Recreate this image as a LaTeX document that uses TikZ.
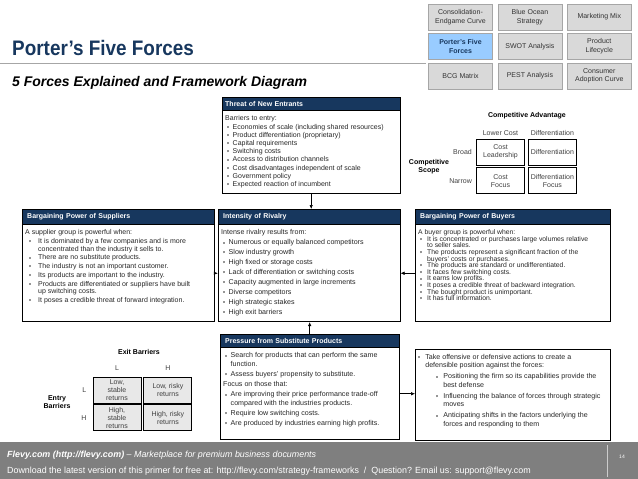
\documentclass[tikz,border=0pt]{standalone}
\usepackage{fontspec}
\usepackage{graphicx}
\setmainfont{Liberation Sans}
\usetikzlibrary{positioning,arrows.meta}

\definecolor{navy}{RGB}{23,55,94}
\definecolor{navgray}{RGB}{217,217,217}
\definecolor{navline}{RGB}{166,166,166}
\definecolor{navblue}{RGB}{153,204,255}
\definecolor{footgray}{RGB}{127,127,127}
\definecolor{cellgray}{RGB}{232,232,232}
\definecolor{bulgray}{RGB}{150,150,150}
\definecolor{txtgray}{RGB}{38,38,38}

\newlength{\itmind}\setlength{\itmind}{7.5pt}
\newlength{\bulind}\setlength{\bulind}{2pt}
\newcommand{\bulletmark}{\textcolor{bulgray}{\rule[1.2pt]{2pt}{2pt}}}
\newcommand{\itm}[1]{\par\hangindent=\itmind\hangafter=1\noindent\makebox[\itmind][l]{\hspace{\bulind}\bulletmark}#1}
\newcommand{\subitm}[1]{\par\hangindent=25pt\hangafter=1\noindent\hspace*{18pt}\makebox[7pt][l]{\bulletmark}#1}
\newcommand{\lead}[1]{\par\noindent #1}
\newcommand{\boxtext}[4]{\parbox[t][#2][t]{#1}{\raggedright\setlength{\parskip}{#3}#4}}

\tikzstyle{navcell} = [draw=navline, fill=navgray, minimum width=64pt, minimum height=26pt, inner sep=1pt, align=center, text=black!80, font=\fontsize{7}{8.5}\selectfont]
\tikzstyle{navsel} = [navcell, fill=navblue, text=navy, font=\bfseries\fontsize{7}{8.5}\selectfont]
\tikzstyle{head} = [draw=black, fill=navy, text=white, anchor=north west, inner xsep=5pt, inner ysep=0pt, align=left, font=\bfseries\fontsize{7}{8}\selectfont]
\tikzstyle{body} = [draw=black, line width=0.7pt, inner xsep=3pt, inner ysep=5pt, text=txtgray]
\tikzstyle{mcell} = [draw=black, line width=0.9pt, minimum width=48pt, minimum height=26pt, inner sep=0pt, align=center, text=black!75, font=\fontsize{7}{8}\selectfont]
\tikzstyle{gcell} = [mcell, fill=cellgray]
\tikzstyle{mlabel} = [text=black!75, font=\fontsize{7}{8}\selectfont, inner sep=1pt, align=center]
\tikzstyle{mtitle} = [font=\bfseries\fontsize{7}{8}\selectfont, inner sep=1pt, align=center]
\tikzstyle{force} = [-{Latex[length=4pt,width=3.5pt]}, line width=0.6pt]
\tikzstyle{foot} = [anchor=base west, text=white, inner sep=0pt, font=\fontsize{8.9}{10}\selectfont]

\begin{document}
\begin{tikzpicture}[x=1pt, y=-1pt]
\useasboundingbox (0,0) rectangle (638,479);

\node[navcell] (consol) at (460.5,17) {Consolidation-\\Endgame Curve};
\node[navcell, right=5pt of consol] (ocean) {Blue Ocean\\Strategy};
\node[navcell, right=5pt of ocean] (mix) {Marketing Mix};
\node[navsel, below=3pt of consol] (porter) {Porter’s Five\\Forces};
\node[navcell, below=3pt of ocean] (swot) {SWOT Analysis};
\node[navcell, below=3pt of mix] (cycle) {Product\\Lifecycle};
\node[navcell, below=3pt of porter] (bcg) {BCG Matrix};
\node[navcell, below=3pt of swot] (pest) {PEST Analysis};
\node[navcell, below=3pt of cycle] (adopt) {Consumer\\Adoption Curve};

\node[anchor=base west, text=navy, inner sep=0pt, font=\bfseries\fontsize{21}{24}\selectfont] (title) at (12,55) {\scalebox{0.9}[1]{Porter’s Five Forces}};
\draw[navline, line width=0.8pt] (0,63) -- (426,63);
\node[anchor=base west, inner sep=0pt, font=\bfseries\itshape\fontsize{14}{16}\selectfont] (subtitle) at (12,86) {5 Forces Explained and Framework Diagram};

\node[head, minimum height=13pt, inner xsep=3pt, text width=172pt] (threathead) at (222,97) {Threat of New Entrants};
\node[body, below=0pt of threathead, font=\fontsize{7}{8.2}\selectfont] (threat) {\boxtext{172pt}{73pt}{0pt}{%
  \lead{Barriers to entry:}
  \itm{Economies of scale (including shared resources)}
  \itm{Product differentiation (proprietary)}
  \itm{Capital requirements}
  \itm{Switching costs}
  \itm{Access to distribution channels}
  \itm{Cost disadvantages independent of scale}
  \itm{Government policy}
  \itm{Expected reaction of incumbent}}};

\node[head, text width=182pt, minimum height=15pt] (supplierhead) at (22,209) {Bargaining Power of Suppliers};
\node[body, below=0pt of supplierhead, font=\fontsize{7}{7.7}\selectfont] (supplier) {\boxtext{186pt}{87pt}{1pt}{%
  \setlength{\itmind}{13pt}\setlength{\bulind}{4pt}%
  \lead{A supplier group is powerful when:}
  \itm{It is dominated by a few companies and is more\newline concentrated than the industry it sells to.}
  \itm{There are no substitute products.}
  \itm{The industry is not an important customer.}
  \itm{Its products are important to the industry.}
  \itm{Products are differentiated or suppliers have built\newline up switching costs.}
  \itm{It poses a credible threat of forward integration.}}};

\node[head, text width=172pt, minimum height=15pt] (rivalryhead) at (218,209) {Intensity of Rivalry};
\node[body, below=0pt of rivalryhead, font=\fontsize{7.1}{9.9}\selectfont] (rivalry) {\boxtext{176pt}{87pt}{0pt}{%
  \lead{Intense rivalry results from:}
  \itm{Numerous or equally balanced competitors}
  \itm{Slow industry growth}
  \itm{High fixed or storage costs}
  \itm{Lack of differentiation or switching costs}
  \itm{Capacity augmented in large increments}
  \itm{Diverse competitors}
  \itm{High strategic stakes}
  \itm{High exit barriers}}};

\node[head, text width=185pt, minimum height=15pt] (buyerhead) at (415,209) {Bargaining Power of Buyers};
\node[body, below=0pt of buyerhead, font=\fontsize{6.8}{6.6}\selectfont] (buyer) {\boxtext{189pt}{87pt}{0pt}{%
  \setlength{\itmind}{9pt}%
  \lead{A buyer group is powerful when:}
  \itm{It is concentrated or purchases large volumes relative\newline to seller sales.}
  \itm{The products represent a significant fraction of the\newline buyers’ costs or purchases.}
  \itm{The products are standard or undifferentiated.}
  \itm{It faces few switching costs.}
  \itm{It earns low profits.}
  \itm{It poses a credible threat of backward integration.}
  \itm{The bought product is unimportant.}
  \itm{It has full information.}}};

\node[head, text width=169pt, minimum height=13pt] (substhead) at (220,334) {Pressure from Substitute Products};
\node[body, below=0pt of substhead, font=\fontsize{7.1}{8.6}\selectfont] (subst) {\boxtext{173pt}{82pt}{1.5pt}{%
  \itm{Search for products that can perform the same\newline function.}
  \itm{Assess buyers’ propensity to substitute.}
  \lead{Focus on those that:}
  \itm{Are improving their price performance trade-off\newline compared with the industries products.}
  \itm{Require low switching costs.}
  \itm{Are produced by industries earning high profits.}}};

\node[body, anchor=north west, font=\fontsize{7.1}{8.5}\selectfont] (defense) at (415,349) {\boxtext{189pt}{81pt}{2.5pt}{%
  \setlength{\itmind}{7pt}\setlength{\bulind}{0pt}%
  \itm{Take offensive or defensive actions to create a\newline defensible position against the forces:}
  \subitm{Positioning the firm so its capabilities provide the\newline best defense}
  \subitm{Influencing the balance of forces through strategic\newline moves}
  \subitm{Anticipating shifts in the factors underlying the\newline forces and responding to them}}};

\draw[force] (threat.south) -- (threat.south |- rivalryhead.north);
\draw[force] (supplier.east) -- (supplier.east -| rivalry.west);
\draw[force] (buyer.west) -- (buyer.west -| rivalry.east);
\draw[force] (substhead.north) -- (substhead.north |- rivalry.south);
\draw[force] (subst.east) -- (subst.east -| defense.west);

\node[mtitle] (advantage) at (527,116) {Competitive Advantage};
\node[mcell] (costlead) at (500.5,152) {Cost\\Leadership};
\node[mcell, right=3pt of costlead] (diff) {Differentiation};
\node[mcell, below=2pt of costlead] (costfocus) {Cost\\Focus};
\node[mcell, below=2pt of diff] (difffocus) {Differentiation\\Focus};
\node[mlabel, above=2pt of costlead] (lowcost) {Lower Cost};
\node[mlabel, above=2pt of diff] (difflabel) {Differentiation};
\node[mlabel, left=3pt of costlead] (broad) {Broad};
\node[mlabel, left=3pt of costfocus] (narrow) {Narrow};
\node[mtitle] (scope) at (429,167) {Competitive\\Scope};

\node[mtitle] (exit) at (139,352) {Exit Barriers};
\node[gcell] (lowstable) at (117,390) {Low,\\stable\\returns};
\node[gcell, right=2pt of lowstable] (lowrisky) {Low, risky\\returns};
\node[gcell, below=1pt of lowstable] (highstable) {High,\\stable\\returns};
\node[gcell, below=1pt of lowrisky] (highrisky) {High, risky\\returns};
\node[mlabel, above=5pt of lowstable] (exitlow) {L};
\node[mlabel, above=5pt of lowrisky] (exithigh) {H};
\node[mlabel, left=5pt of lowstable] (entrylow) {L};
\node[mlabel, left=5pt of highstable] (entryhigh) {H};
\node[mtitle] (entry) at (57,402) {Entry\\Barriers};

\fill[footgray] (0,442) rectangle (638,479);
\node[foot] (flevy) at (7,457) {\textbf{\textit{Flevy.com (http://flevy.com)}} \textit{– Marketplace for premium business documents}};
\node[foot] (download) at (7,473) {Download the latest version of this primer for free at: http://flevy.com/strategy-frameworks \ / \ Question? Email us: support@flevy.com};
\draw[white!60!footgray] (607,445) -- (607,477);
\node[text=white, font=\fontsize{5}{6}\selectfont] (page) at (622,457) {14};
\end{tikzpicture}
\end{document}
